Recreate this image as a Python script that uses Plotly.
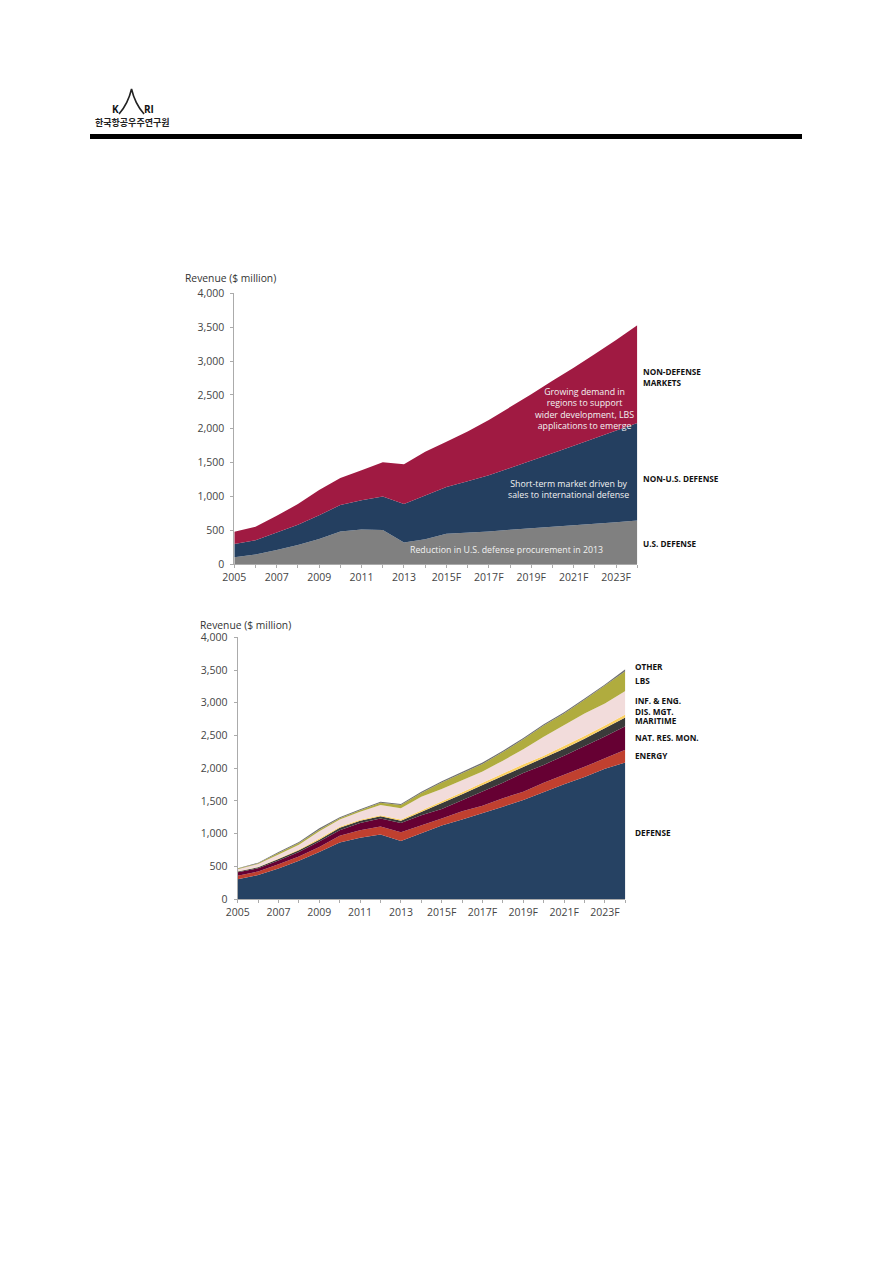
import plotly.graph_objects as go

W, H = 893, 1263

years = ['2005', '2006', '2007', '2008', '2009', '2010', '2011', '2012', '2013', '2014',
         '2015F', '2016F', '2017F', '2018F', '2019F', '2020F', '2021F', '2022F', '2023F', '2024F']
tick_labels = ['2005', '', '2007', '', '2009', '', '2011', '', '2013', '',
               '2015F', '', '2017F', '', '2019F', '', '2021F', '', '2023F', '']
y_ticks = [0, 500, 1000, 1500, 2000, 2500, 3000, 3500, 4000]

# top chart
us_defense = [105, 145, 210, 285, 375, 485, 515, 505, 320, 370, 450, 465, 485, 510, 530, 555, 575, 600, 620, 645]
non_us_defense = [195, 210, 260, 300, 350, 390, 430, 495, 570, 640, 690, 760, 830, 910, 1005, 1085, 1175, 1265, 1355, 1440]
non_defense = [180, 200, 245, 305, 370, 400, 445, 505, 585, 650, 670, 735, 815, 895, 975, 1070, 1150, 1240, 1335, 1445]

# bottom chart
defense = [300, 365, 465, 585, 720, 865, 935, 985, 885, 1000, 1125, 1215, 1310, 1410, 1515, 1640, 1755, 1865, 1990, 2085]
energy = [55, 55, 65, 65, 75, 100, 115, 125, 135, 120, 105, 125, 115, 130, 125, 135, 140, 155, 160, 195]
nat_res = [55, 50, 60, 70, 85, 85, 110, 120, 140, 160, 145, 170, 215, 238, 285, 275, 295, 315, 335, 360]
maritime = [10, 15, 20, 25, 25, 40, 35, 35, 35, 50, 80, 90, 102, 102, 97, 100, 105, 115, 125, 135]
dis_mgt = [5, 5, 10, 10, 20, 15, 15, 15, 20, 20, 35, 30, 36, 41, 36, 40, 40, 40, 40, 45]
inf_eng = [30, 45, 60, 75, 110, 110, 125, 157, 171, 214, 190, 185, 172, 194, 232, 290, 325, 345, 340, 359]
lbs = [10, 10, 25, 25, 25, 20, 20, 33, 49, 56, 100, 105, 115, 130, 150, 170, 175, 210, 270, 301]
other = [5, 10, 15, 15, 20, 13, 15, 18, 17, 20, 20, 20, 20, 20, 20, 20, 20, 20, 20, 30]

top_series = [('U.S. DEFENSE', us_defense, '#808080'),
              ('NON-U.S. DEFENSE', non_us_defense, '#243f60'),
              ('NON-DEFENSE MARKETS', non_defense, '#a01a42')]
bottom_series = [('DEFENSE', defense, '#264263'),
                 ('ENERGY', energy, '#c0402f'),
                 ('NAT. RES. MON.', nat_res, '#660033'),
                 ('MARITIME', maritime, '#3a3a3a'),
                 ('DIS. MGT.', dis_mgt, '#fcd060'),
                 ('INF. & ENG.', inf_eng, '#f2dcdb'),
                 ('LBS', lbs, '#b0ac3e'),
                 ('OTHER', other, '#707070')]

BASE = 'Open Sans'
fig = go.Figure()

for name, vals, col in top_series:
    fig.add_trace(go.Scatter(x=years, y=vals, name=name, mode='lines', stackgroup='top',
                             line=dict(width=0), fillcolor=col, xaxis='x', yaxis='y'))
for name, vals, col in bottom_series:
    fig.add_trace(go.Scatter(x=years, y=vals, name=name, mode='lines', stackgroup='bottom',
                             line=dict(width=0), fillcolor=col, xaxis='x2', yaxis='y2'))


def px(x):
    return x / W


def py(y):
    return 1 - y / H


def note(x, y, text, size=8.8, color='#f2f2f2', bold=False, align='center', anchor='center'):
    if bold:
        text = '<b>' + text.replace('<br>', '</b><br><b>') + '</b>'
    fig.add_annotation(x=px(x), y=py(y), xref='paper', yref='paper', text=text, showarrow=False,
                       xanchor=anchor, yanchor='middle', align=align,
                       font=dict(family=BASE, size=size, color=color))


axis_style = dict(showgrid=False, zeroline=False, showline=True, linecolor='#ababab', linewidth=1,
                  ticks='outside', ticklen=3, tickcolor='#ababab',
                  tickfont=dict(family=BASE, size=10.5, color='#454545'))

fig.update_layout(
    width=W, height=H, margin=dict(l=0, r=0, t=0, b=0, autoexpand=False), showlegend=False,
    paper_bgcolor='white', plot_bgcolor='white',
    xaxis=dict(domain=[px(234.3), px(637.3)], anchor='y', type='category', categoryorder='array',
               categoryarray=years, range=[0, 19], tickmode='array', tickvals=years, ticktext=tick_labels,
               tickangle=0, **axis_style),
    yaxis=dict(domain=[py(564.3), py(293.3)], anchor='x', range=[0, 4000], tickmode='array', tickvals=y_ticks,
               tickformat=',d', ticklabelstandoff=4, **axis_style),
    xaxis2=dict(domain=[px(237.7), px(625.3)], anchor='y2', type='category', categoryorder='array',
                categoryarray=years, range=[0, 19], tickmode='array', tickvals=years, ticktext=tick_labels,
                tickangle=0, **axis_style),
    yaxis2=dict(domain=[py(899), py(637.3)], anchor='x2', range=[0, 4000], tickmode='array', tickvals=y_ticks,
                tickformat=',d', ticklabelstandoff=4, **axis_style),
)

# axis titles
note(183, 278, 'Revenue ($ million)', size=10.3, color='#333333', anchor='left')
note(198, 625, 'Revenue ($ million)', size=10.3, color='#333333', anchor='left')

# text inside the top chart
note(584, 408.7, 'Growing demand in<br>regions to support<br>wider development, LBS<br>applications to emerge')
note(568, 489.6, 'Short-term market driven by<br>sales to international defense')
note(506, 550, 'Reduction in U.S. defense procurement in 2013')

# right hand labels
note(641, 376.7, 'NON-DEFENSE<br>MARKETS', size=8.2, color='#111111', bold=True, align='left', anchor='left')
note(641, 478, 'NON-U.S. DEFENSE', size=8.2, color='#111111', bold=True, anchor='left')
note(641, 543.5, 'U.S. DEFENSE', size=8.2, color='#111111', bold=True, anchor='left')
for label, y in [('OTHER', 666.7), ('LBS', 680), ('INF. &amp; ENG.', 700), ('DIS. MGT.', 711), ('MARITIME', 720),
                 ('NAT. RES. MON.', 737.7), ('ENERGY', 755), ('DEFENSE', 832)]:
    note(633, y, label, size=8.2, color='#111111', bold=True, anchor='left')

# page header: logo and rule
fig.add_shape(type='rect', xref='paper', yref='paper', x0=px(90), x1=px(802), y0=py(139), y1=py(134),
              fillcolor='black', line_width=0)
fig.add_shape(type='path', xref='paper', yref='paper', line=dict(color='#222222', width=1.6),
              path='M %.4f %.4f Q %.4f %.4f %.4f %.4f Q %.4f %.4f %.4f %.4f' % (
                  px(119), py(114), px(128), py(104), px(131.5), py(89),
                  px(135), py(104), px(144), py(114)))
note(115, 108.5, 'K', size=10, color='#111111', bold=True)
note(149, 108.5, 'RI', size=10, color='#111111', bold=True)
fig.add_annotation(x=px(132.5), y=py(122.5), xref='paper', yref='paper', text='<b>한국항공우주연구원</b>', showarrow=False,
                   xanchor='center', yanchor='middle', font=dict(family='Noto Sans CJK KR', size=9, color='#222222'))

fig.write_html('out.html', config={'displayModeBar': False}, post_script="document.body.style.margin='0';")
